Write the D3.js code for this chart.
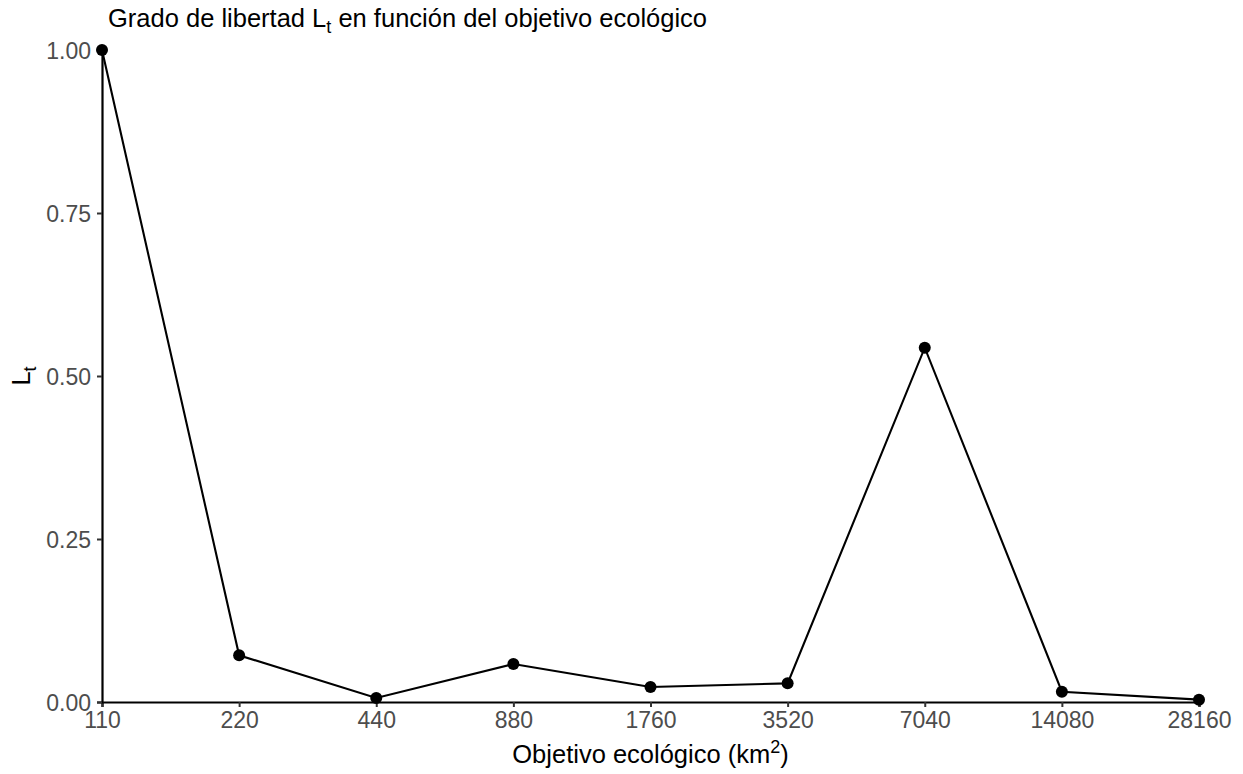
<!DOCTYPE html>
<html>
<head>
<meta charset="utf-8">
<script src="https://cdn.jsdelivr.net/npm/d3@7"></script>
<style>
  body { margin: 0; background: #fff; }
  svg { display: block; font-family: "Liberation Sans", Arial, Helvetica, sans-serif; }
</style>
</head>
<body>
<svg id="chart" width="1243" height="774"></svg>
<script>
// Ecological target (km²) and the corresponding degree of freedom L_t
const targets = [110, 220, 440, 880, 1760, 3520, 7040, 14080, 28160];
const ltValues = [1.0, 0.0716, 0.0061, 0.0583, 0.0230, 0.0286, 0.5434, 0.0158, 0.0036];
const yTicks = [0, 0.25, 0.5, 0.75, 1.0];

const svg = d3.select("#chart");
const margin = { left: 102, right: 44, top: 50, bottom: 72 };
const W = 1243, H = 774;

const x = d3.scaleLog().base(2)
  .domain([110, 28160])
  .range([margin.left, W - margin.right]);
const y = d3.scaleLinear()
  .domain([0, 1])
  .range([H - margin.bottom, margin.top]);

// Axes
const xAxis = svg.append("g")
  .attr("transform", `translate(0,${H - margin.bottom})`)
  .call(d3.axisBottom(x).tickValues(targets).tickFormat(d3.format("d")).tickSizeOuter(0).tickSize(5).tickPadding(5));
const yAxis = svg.append("g")
  .attr("transform", `translate(${margin.left},0)`)
  .call(d3.axisLeft(y).tickValues(yTicks).tickFormat(d3.format(".2f")).tickSizeOuter(0).tickSize(5).tickPadding(6));

[xAxis, yAxis].forEach(g => {
  g.select(".domain").attr("stroke", "#000").attr("stroke-width", 2.2);
  g.selectAll(".tick line").attr("stroke", "#333").attr("stroke-width", 2);
  g.selectAll(".tick text")
    .attr("fill", "#4d4d4d")
    .style("font-size", "23px")
    .style("font-family", "Liberation Sans, Arial, sans-serif");
});
yAxis.selectAll(".tick text").attr("dy", "0.35em");

// Line and points
const pts = targets.map((t, i) => ({ t, v: ltValues[i] }));
svg.append("path")
  .datum(pts)
  .attr("fill", "none")
  .attr("stroke", "#000")
  .attr("stroke-width", 2.1)
  .attr("d", d3.line().x(d => x(d.t)).y(d => y(d.v)));
svg.append("g").selectAll("circle")
  .data(pts)
  .join("circle")
  .attr("cx", d => x(d.t))
  .attr("cy", d => y(d.v))
  .attr("r", 6)
  .attr("fill", "#000");

// Title
const title = svg.append("text")
  .attr("x", 108).attr("y", 27)
  .style("font-size", "25.5px").attr("fill", "#000");
title.append("tspan").text("Grado de libertad L");
title.append("tspan").attr("dy", 6).style("font-size", "18px").text("t");
title.append("tspan").attr("dy", -6).text(" en función del objetivo ecológico");

// X-axis title
const xt = svg.append("text")
  .attr("x", (margin.left + W - margin.right) / 2).attr("y", 763)
  .attr("text-anchor", "middle")
  .style("font-size", "25.5px").attr("fill", "#000");
xt.append("tspan").text("Objetivo ecológico (km");
xt.append("tspan").attr("dy", -10).style("font-size", "18px").text("2");
xt.append("tspan").attr("dy", 10).text(")");

// Y-axis title
const yt = svg.append("text")
  .attr("transform", `translate(30,${(margin.top + H - margin.bottom) / 2}) rotate(-90)`)
  .attr("text-anchor", "middle")
  .style("font-size", "25.5px").attr("fill", "#000");
yt.append("tspan").text("L");
yt.append("tspan").attr("dy", 6).style("font-size", "18px").text("t");
</script>
</body>
</html>
